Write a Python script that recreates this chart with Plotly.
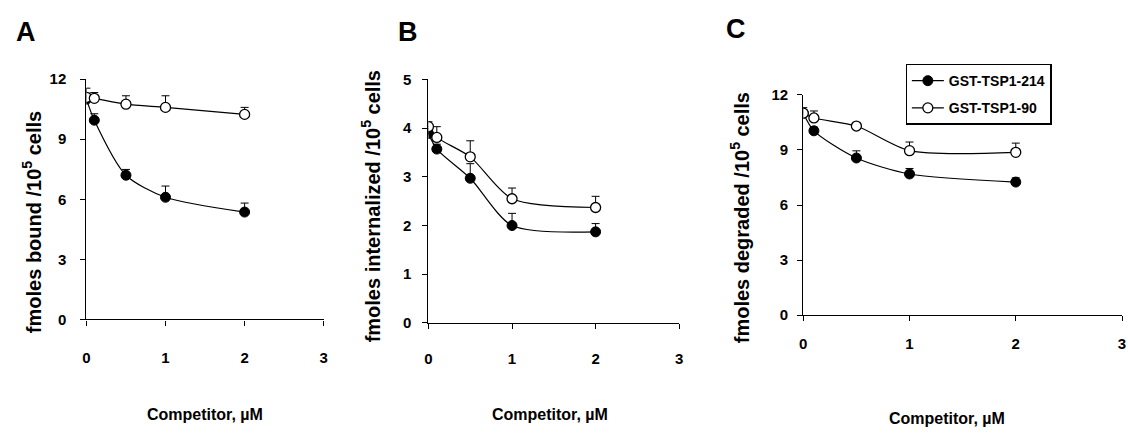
import plotly.graph_objects as go

# ---- data ----
conc = [0, 0.1, 0.5, 1, 2]

a_214 = [11.0, 9.95, 7.2, 6.1, 5.36]
a_214_err = [0.3, 0.32, 0.29, 0.56, 0.45]
a_90 = [11.09, 11.04, 10.75, 10.59, 10.24]
a_90_err = [0.46, 0.29, 0.42, 0.58, 0.35]

b_214 = [3.89, 3.57, 2.97, 2.0, 1.87]
b_214_err = [0.1, 0.1, 0.3, 0.25, 0.17]
b_90 = [4.03, 3.81, 3.41, 2.55, 2.37]
b_90_err = [0.1, 0.22, 0.33, 0.22, 0.23]

c_214 = [11.0, 10.04, 8.56, 7.69, 7.25]
c_214_err = [0.2, 0.2, 0.39, 0.3, 0.23]
c_90 = [11.0, 10.74, 10.3, 8.96, 8.87]
c_90_err = [0.3, 0.38, 0.15, 0.47, 0.5]

x_ticks = [0, 1, 2, 3]
a_yticks = [0, 3, 6, 9, 12]
b_yticks = [0, 1, 2, 3, 4, 5]
c_yticks = [0, 3, 6, 9, 12]

series_names = ["GST-TSP1-214", "GST-TSP1-90"]
panel_letters = ["A", "B", "C"]
y_titles = ["fmoles bound /10<sup>5</sup> cells",
            "fmoles internalized /10<sup>5</sup> cells",
            "fmoles degraded /10<sup>5</sup> cells"]
x_title = "Competitor, µM"

W, H = 1128, 435
SANS = "Liberation Sans, Arial"

def px(x):
    return x / W

def py(y):
    return 1 - y / H

fig = go.Figure()

panels = [
    (a_214, a_214_err, a_90, a_90_err, "x", "y"),
    (b_214, b_214_err, b_90, b_90_err, "x2", "y2"),
    (c_214, c_214_err, c_90, c_90_err, "x3", "y3"),
]

for i, (f, fe, o, oe, xa, ya) in enumerate(panels):
    show = (i == 2)
    fig.add_trace(go.Scatter(
        x=conc, y=f, xaxis=xa, yaxis=ya, name=series_names[0],
        mode="lines+markers", line=dict(color="black", width=1.2, shape="spline", smoothing=0.75),
        marker=dict(symbol="circle", size=10, color="black", line=dict(color="black", width=1)),
        error_y=dict(type="data", symmetric=False, array=fe, arrayminus=[0] * len(fe),
                     color="black", thickness=1, width=4),
        showlegend=show, legendgroup="g214"))
    fig.add_trace(go.Scatter(
        x=conc, y=o, xaxis=xa, yaxis=ya, name=series_names[1],
        mode="lines+markers", line=dict(color="black", width=1.2, shape="spline", smoothing=0.75),
        marker=dict(symbol="circle", size=10, color="white", line=dict(color="black", width=1.3)),
        error_y=dict(type="data", symmetric=False, array=oe, arrayminus=[0] * len(oe),
                     color="black", thickness=1, width=4),
        showlegend=show, legendgroup="g90"))

tickfont = dict(family=SANS, size=15, color="black", weight="bold")

def xaxis(dom, yanchor, standoff):
    return dict(domain=dom, anchor=yanchor, range=[0, 3], tickvals=x_ticks,
                showline=True, linecolor="black", linewidth=1.3, ticks="outside",
                ticklen=5, tickcolor="black", showgrid=False, zeroline=False,
                tickfont=tickfont, ticklabelposition="outside",
                ticklabelstandoff=standoff, ticklabeloverflow="allow", fixedrange=True)

def yaxis(dom, xanchor, rng, tv, standoff):
    return dict(domain=dom, anchor=xanchor, range=rng, tickvals=tv,
                showline=True, linecolor="black", linewidth=1.3, ticks="outside",
                ticklen=5, tickcolor="black", showgrid=False, zeroline=False,
                tickfont=tickfont, ticklabelposition="outside",
                ticklabelstandoff=standoff, ticklabeloverflow="allow", fixedrange=True)

fig.update_layout(
    width=W, height=H,
    margin=dict(l=0, r=0, t=0, b=0),
    paper_bgcolor="white", plot_bgcolor="white",
    xaxis=xaxis([px(83), px(322)], "y", 19),
    yaxis=yaxis([py(323), py(73)], "x", [0, 12], a_yticks, 11),
    xaxis2=xaxis([px(427.5), px(680)], "y2", 17),
    yaxis2=yaxis([py(326.7), py(73.3)], "x2", [0, 5], b_yticks, 8),
    xaxis3=xaxis([px(805), px(1126)], "y3", 10),
    yaxis3=yaxis([py(318.7), py(89.3)], "x3", [0, 12], c_yticks, 6),
    legend=dict(x=px(908), y=py(57), xanchor="left", yanchor="top",
                bordercolor="black", borderwidth=1.3, bgcolor="white",
                font=dict(family=SANS, size=14, color="black", weight="bold"),
                tracegroupgap=6, itemwidth=32, entrywidth=150, entrywidthmode="pixels"),
    showlegend=True,
)

annotations = []
for letter, (xx, yy) in zip(panel_letters, [(22, 24), (407, 24), (737, 21)]):
    annotations.append(dict(text=letter, x=px(xx), y=py(yy), xref="paper", yref="paper",
                            xanchor="center", yanchor="middle", showarrow=False,
                            font=dict(family=SANS, size=27, color="black", weight="bold")))
for t, (xx, yy) in zip(y_titles, [(28, 222), (370, 205), (741, 217)]):
    annotations.append(dict(text=t, x=px(xx), y=py(yy), xref="paper", yref="paper",
                            xanchor="center", yanchor="middle",
                            textangle=-90, showarrow=False,
                            font=dict(family=SANS, size=20, color="black", weight="bold")))
for xx, yy in [(202, 422), (550, 422), (950, 426)]:
    annotations.append(dict(text=x_title, x=px(xx), y=py(yy), xref="paper", yref="paper",
                            xanchor="center", yanchor="middle", showarrow=False,
                            font=dict(family=SANS, size=16, color="black", weight="bold")))
fig.update_layout(annotations=annotations)

fig.write_html("out.html", config={"displayModeBar": False},
               post_script="document.body.style.margin='0';document.body.style.overflow='hidden';")
